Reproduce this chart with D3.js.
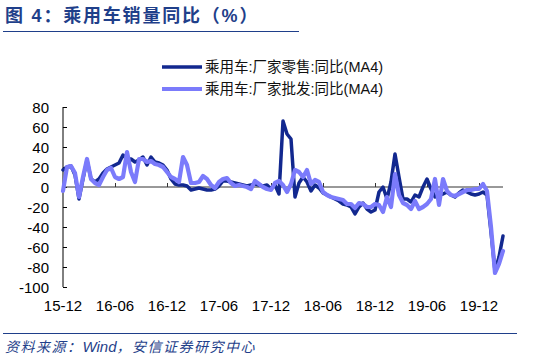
<!DOCTYPE html>
<html>
<head>
<meta charset="utf-8">
<script src="https://cdn.jsdelivr.net/npm/d3@7"></script>
<style>
  body { margin: 0; background: #fff; }
  svg { display: block; font-family: Arial, "Liberation Sans", "Noto Sans CJK SC", sans-serif; }
</style>
</head>
<body>
<div id="chart"></div>
<script>
// biweekly points, Dec 2015 .. Apr 2020
const retail = [17, 20, 21, 12, -12, 8, 27, 8, 5, 8,
    14, 18, 20, 22, 24, 32, 28, 28, 25, 27,
    30, 22, 30, 25, 24, 22, 17, 8, 3, 2,
    2, 1, -3, -2, -1, -2, -3, -3, -2, 1,
    6, 6, 5, 4, 3, 2, 1, 2, 3, 2,
    1, 2, -2, 2, -7, 66, 53, 48, -10, 4,
    10, 5, -4, 2, -1, -6, -8, -10, -12, -14,
    -17, -18, -20, -27, -20, -16, -22, -25, -23, -5,
    0, -12, 5, 33, 10, -12, -12, -15, -8, -10,
    0, 8, -2, -10, -8, -7, -5, -8, -10, -6,
    -3, -5, -7, -8, -7, -5, -8, -45, -84, -70,
    -49];
const wholesale = [-4, 20, 21, 14, -10, 10, 28, 8, 4, 2,
    10, 17, 19, 10, 8, 10, 35, 15, 5, 28,
    28, 25, 26, 23, 22, 20, 15, 10, 8, 5,
    30, 22, 4, 4, 5, 11, 8, 2, -1, 5,
    8, 9, 4, 1, 2, 1, 0, -2, 6, 3,
    0, -2, -3, 4, 6, 2, -5, 3, 17, 15,
    10, 17, 3, 7, 5, -5, -8, -10, -11, -12,
    -13, -17, -17, -21, -16, -17, -20, -20, -17, -18,
    -25, -10, -20, 13, -8, -16, -18, -22, -14, -22,
    -20, -17, -12, 8, -18, 8, -4, -8, -9, -7,
    -5, -3, -3, -2, -2, 3, -4, -40, -86, -77,
    -64];
const tickLabels = ["15-12", "16-06", "16-12", "17-06", "17-12", "18-06", "18-12", "19-06", "19-12"];
const labelStep = 13; // points per half year
const yTicks = [80, 60, 40, 20, 0, -20, -40, -60, -80, -100];
const seriesNames = ["乘用车:厂家零售:同比(MA4)", "乘用车:厂家批发:同比(MA4)"];
const colors = ["#12288f", "#7b7bfb"];
const widths = [3.5, 4.2];

const W = 544, H = 358;
const svg = d3.select("#chart").append("svg").attr("width", W).attr("height", H);

// title + rule
svg.append("text").attr("x", 5).attr("y", 22)
    .attr("fill", "#1f3f8a").attr("font-size", 18).attr("font-weight", "bold")
    .attr("letter-spacing", 1.8)
    .text("图 4：乘用车销量同比（%）");
svg.append("line").attr("x1", 3).attr("x2", 299).attr("y1", 31.5).attr("y2", 31.5)
    .attr("stroke", "#1f3f8a").attr("stroke-width", 1.2);

const x = d3.scaleLinear().domain([0, retail.length - 1]).range([63, 503]);
const y = d3.scaleLinear().domain([-100, 80]).range([287, 107]);

// y axis
const yAxis = svg.append("g").attr("transform", "translate(63,0)")
    .call(d3.axisRight(y).tickValues(yTicks).tickSize(4).tickFormat(""));
yAxis.select(".domain").attr("stroke", "#000").attr("d", `M0,${y(80)}V${y(-100)}`);
yAxis.selectAll(".tick line").attr("stroke", "#000");
svg.selectAll(".ylab").data(yTicks).enter().append("text")
    .attr("x", 49).attr("y", d => y(d) + 5.5)
    .attr("text-anchor", "end").attr("font-size", 15).attr("fill", "#000")
    .text(d => d);

// zero line with category ticks
const xIdx = tickLabels.map((_, i) => i * labelStep);
const xAxis = svg.append("g").attr("transform", `translate(0,${y(0)})`)
    .call(d3.axisTop(x).tickValues(xIdx).tickSize(4).tickFormat(""));
xAxis.select(".domain").attr("stroke", "#333").attr("d", `M${x(0)},0H${x(retail.length - 1)}`);
xAxis.selectAll(".tick line").attr("stroke", "#333");
svg.selectAll(".xlab").data(tickLabels).enter().append("text")
    .attr("x", (d, i) => x(i * labelStep)).attr("y", 311)
    .attr("text-anchor", "middle").attr("font-size", 15).attr("fill", "#000")
    .text(d => d);

// lines
const line = d3.line().x((d, i) => x(i)).y(d => y(d));
[retail, wholesale].forEach((s, i) => {
    svg.append("path").datum(s).attr("d", line)
        .attr("fill", "none").attr("stroke", colors[i])
        .attr("stroke-width", widths[i])
        .attr("stroke-linejoin", "round").attr("stroke-linecap", "round");
});

// legend
seriesNames.forEach((n, i) => {
    const ly = 67 + i * 22;
    svg.append("line").attr("x1", 162).attr("x2", 202).attr("y1", ly).attr("y2", ly)
        .attr("stroke", colors[i]).attr("stroke-width", widths[i]);
    svg.append("text").attr("x", 205).attr("y", ly + 5).attr("font-size", 14.5)
        .attr("fill", "#111").text(n);
});

// source
svg.append("line").attr("x1", 3).attr("x2", 517).attr("y1", 333.5).attr("y2", 333.5)
    .attr("stroke", "#1f3f8a").attr("stroke-width", 1.2);
const src = svg.append("text").attr("x", 5).attr("y", 352)
    .attr("fill", "#1f3f8a").attr("font-size", 14).attr("font-style", "italic");
src.append("tspan").attr("letter-spacing", 1.5).text("资料来源：");
src.append("tspan").attr("font-size", 15).text("Wind");
src.append("tspan").attr("letter-spacing", 1.5).text("，安信证券研究中心");
</script>
</body>
</html>
